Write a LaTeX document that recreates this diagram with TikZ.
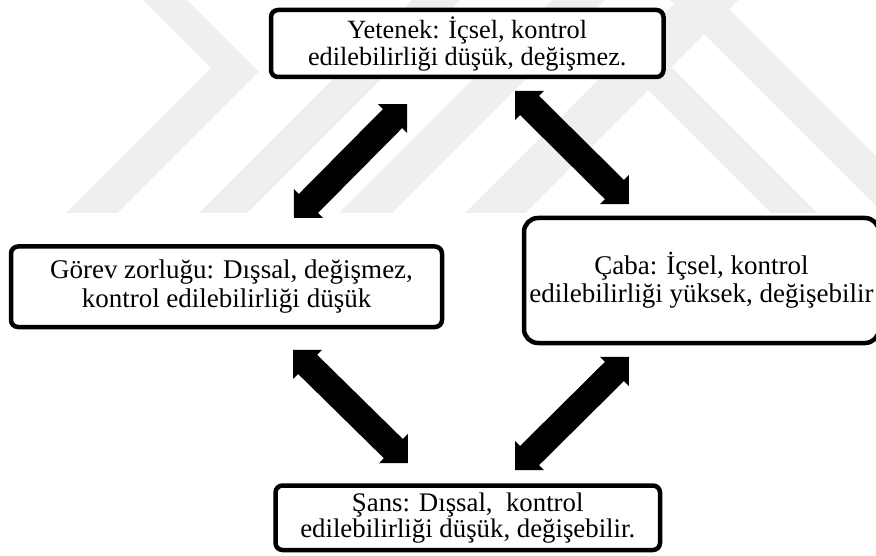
\documentclass[tikz,border=0pt]{standalone}
\usepackage{fontspec}
\setmainfont{Liberation Serif}
\usetikzlibrary{calc}
\definecolor{wmgray}{RGB}{239,239,239}

% thick double-headed block arrow between two tip coordinates
\newcommand{\dblarrow}[2]{%
  \coordinate (hA) at ($(#1)!20.5pt!(#2)$);
  \coordinate (hB) at ($(#2)!20.5pt!(#1)$);
  \fill[arrowfill] (#1)
    -- ($(hA)!20.5pt!90:(#2)$) -- ($(hA)!13.5pt!90:(#2)$)
    -- ($(hB)!13.5pt!-90:(#1)$) -- ($(hB)!20.5pt!-90:(#1)$)
    -- (#2)
    -- ($(hB)!20.5pt!90:(#1)$) -- ($(hB)!13.5pt!90:(#1)$)
    -- ($(hA)!13.5pt!-90:(#2)$) -- ($(hA)!20.5pt!-90:(#2)$)
    -- cycle;
}

\begin{document}
\begin{tikzpicture}[x=1pt,y=-1pt,
  box/.style={draw=black, line width=4.5pt, rounded corners=7pt, fill=white,
    align=center, inner sep=0pt, font=\fontsize{27}{28}\selectfont},
  band/.style={fill=wmgray},
  arrowfill/.style={fill=black}]
\clip (0,0) rectangle (876,556);
\fill[white] (0,0) rectangle (876,556);

% faint background chevrons
\begin{scope}
  \clip (0,0) rectangle (876,213);
  \fill[band] (143,0) -- (187,0) -- (258.5,71.5) -- (117,213) -- (66,213) -- (211,68) -- cycle;
  \fill[band] (412,0) -- (460,0) -- (247,213) -- (199,213) -- cycle;
  \fill[band] (552,0) -- (605,0) -- (392,213) -- (339,213) -- cycle;
  \fill[band] (678,0) -- (738,0) -- (525,213) -- (465,213) -- cycle;
  \fill[band] (670,0) -- (720,0) -- (933,213) -- (883,213) -- cycle;
  \fill[band] (648,90) -- (671,67) -- (817,213) -- (771,213) -- cycle;
\end{scope}

% boxes
\node[box, minimum width=392.5pt, minimum height=67pt,
      font=\fontsize{26.3}{27}\selectfont] (yet) at (467.25,43.5)
  {Yetenek: İçsel, kontrol\\edilebilirliği düşük, değişmez.};
\node[box, minimum width=431pt, minimum height=80.5pt,
      font=\fontsize{27}{29}\selectfont] (gor) at (226.5,286.75)
  {\hspace*{10pt}Görev zorluğu: Dışsal, değişmez,\\kontrol edilebilirliği düşük};
\node[box, rounded corners=14pt, minimum width=355pt, minimum height=125pt] (cab) at (701.5,280.5)
  {Çaba: İçsel, kontrol\\edilebilirliği yüksek, değişebilir};
\node[box, minimum width=384.5pt, minimum height=64.5pt,
      font=\fontsize{26.8}{26}\selectfont] (san) at (467.75,517.75)
  {Şans: Dışsal,~ kontrol\\edilebilirliği düşük, değişebilir.};

% arrow tips
\coordinate (yg1) at (407,104);
\coordinate (yg2) at (294,218);
\coordinate (yc1) at (515,91);
\coordinate (yc2) at (629,204);
\coordinate (gs1) at (293,350);
\coordinate (gs2) at (408,463);
\coordinate (cs1) at (629,357);
\coordinate (cs2) at (515,470);

\dblarrow{yg1}{yg2}
\dblarrow{yc1}{yc2}
\dblarrow{gs1}{gs2}
\dblarrow{cs1}{cs2}
\end{tikzpicture}
\end{document}
